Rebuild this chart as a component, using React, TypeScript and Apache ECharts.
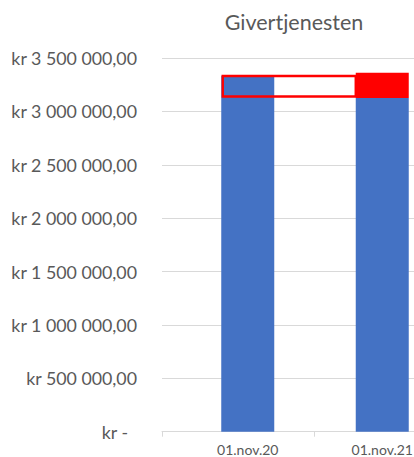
import React, { useEffect, useRef } from "react";
import * as echarts from "echarts";

const categories = ["01.nov.20", "01.nov.21"];
const blueValues = [3334000, 3125000];
const redValues = [0, 237000];
const boxRange = [[0, 1, 3139000, 3331000]];
const yTicks = { min: 0, max: 3500000, interval: 500000 };

const BAR_W = 53;
const FONT = "Lato, 'Open Sans', sans-serif";
const GREY = "#595959";

function fmt(v: number): string {
  if (v === 0) return "{z|kr -}";
  const s = Math.round(v).toString().replace(/\B(?=(\d{3})+(?!\d))/g, " ");
  return "kr " + s + ",00";
}

export default function App() {
  const ref = useRef<HTMLDivElement>(null);
  useEffect(() => {
    if (!ref.current) return;
    const chart = echarts.init(ref.current, null, { renderer: "svg" });
    chart.setOption({
      animation: false,
      title: {
        text: "Givertjenesten",
        left: 289,
        textAlign: "center",
        top: 6,
        textStyle: { fontFamily: FONT, fontSize: 21.5, fontWeight: "normal", color: GREY },
      },
      grid: [
        { left: 162, width: 305, top: 58, bottom: 25.3, outerBoundsMode: "none", containLabel: false },
        { left: 180.5, width: 269, top: 58, bottom: 25.3, outerBoundsMode: "none", containLabel: false },
      ],
      xAxis: [
        {
          type: "category",
          gridIndex: 0,
          data: ["", ""],
          boundaryGap: true,
          axisLine: { lineStyle: { color: "#d9d9d9" } },
          axisTick: { show: true, length: 5, lineStyle: { color: "#d9d9d9" } },
          axisLabel: { show: false },
        },
        {
          type: "category",
          gridIndex: 1,
          data: categories,
          axisLine: { show: false },
          axisTick: { show: false },
          axisLabel: { fontFamily: FONT, fontSize: 14, color: GREY, margin: 11 },
        },
      ],
      yAxis: [
        {
          type: "value",
          gridIndex: 0,
          ...yTicks,
          axisLine: { show: false },
          axisTick: { show: false },
          splitLine: { lineStyle: { color: "#d9d9d9" } },
          axisLabel: {
            formatter: fmt,
            fontFamily: FONT,
            fontSize: 17.8,
            color: GREY,
            margin: 25,
            rich: { z: { fontFamily: FONT, fontSize: 17.8, color: GREY, padding: [0, 9, 0, 0] } },
          },
        },
        {
          type: "value",
          gridIndex: 1,
          ...yTicks,
          show: false,
          splitLine: { show: false },
        },
      ],
      series: [
        {
          type: "bar",
          xAxisIndex: 1,
          yAxisIndex: 1,
          stack: "a",
          barWidth: BAR_W,
          data: blueValues,
          itemStyle: { color: "#4472C4" },
        },
        {
          type: "bar",
          xAxisIndex: 1,
          yAxisIndex: 1,
          stack: "a",
          barWidth: BAR_W,
          data: redValues,
          itemStyle: { color: "#FF0000" },
        },
        {
          type: "custom",
          xAxisIndex: 1,
          yAxisIndex: 1,
          z: 10,
          data: boxRange,
          renderItem: (params: any, api: any) => {
            const a = api.coord([api.value(0), api.value(3)]);
            const b = api.coord([api.value(1), api.value(2)]);
            return {
              type: "rect",
              shape: { x: a[0] - BAR_W / 2 + 1.5, y: a[1], width: b[0] - a[0] - 1.5, height: b[1] - a[1] },
              style: { fill: "none", stroke: "#FF0000", lineWidth: 2.4 },
            };
          },
        },
      ],
    });
    return () => chart.dispose();
  }, []);
  return (
    <div
      ref={ref}
      style={{ position: "absolute", left: 0, top: 0, width: 414, height: 457 }}
    />
  );
}
